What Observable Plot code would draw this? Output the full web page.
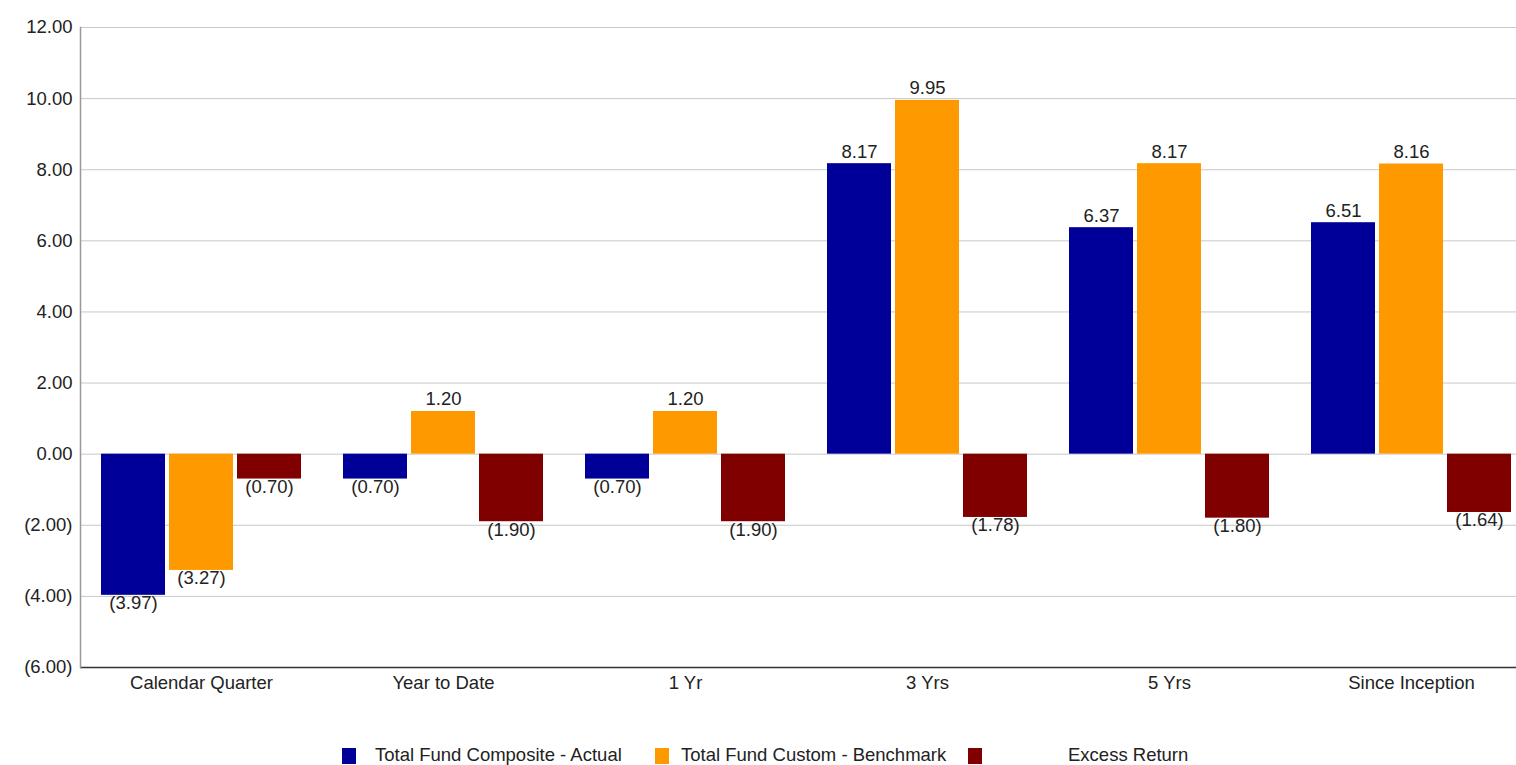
<!DOCTYPE html>
<html>
<head>
<meta charset="utf-8">
<script src="https://cdn.jsdelivr.net/npm/d3@7"></script>
<script src="https://cdn.jsdelivr.net/npm/@observablehq/plot@0.6"></script>
<style>
  html, body { margin: 0; padding: 0; background: #fff; overflow: hidden; }
  #wrap { position: relative; width: 1516px; height: 765px; overflow: hidden; font-family: "Liberation Sans", Arial, sans-serif; }
  #chart { position: absolute; left: 0; top: 0; width: 1532px; }
  #chart svg { max-width: none !important; }
  .lg-sq { position: absolute; width: 14px; height: 16px; }
  .lg-tx { position: absolute; font-size: 18.5px; color: #222; line-height: 20px; white-space: nowrap; }
</style>
</head>
<body>
<div id="wrap">
  <div id="chart"></div>
  <div id="legend"></div>
</div>
<script>
const categories = ["Calendar Quarter", "Year to Date", "1 Yr", "3 Yrs", "5 Yrs", "Since Inception"];
const seriesNames = ["Total Fund Composite - Actual", "Total Fund Custom - Benchmark", "Excess Return"];
const seriesColors = ["#000099", "#FF9900", "#800000"];
const compositeActual = [-3.97, -0.70, -0.70, 8.17, 6.37, 6.51];
const customBenchmark = [-3.27, 1.20, 1.20, 9.95, 8.17, 8.16];
const excessReturn = [-0.70, -1.90, -1.90, -1.78, -1.80, -1.64];
const yTicks = [-6, -4, -2, 0, 2, 4, 6, 8, 10, 12];

const seriesValues = [compositeActual, customBenchmark, excessReturn];
const rows = [];
categories.forEach((c, i) => {
  seriesNames.forEach((s, j) => {
    rows.push({category: c, series: s, value: seriesValues[j][i]});
  });
});

const fmt = d => d < 0 ? `(${Math.abs(d).toFixed(2)})` : d.toFixed(2);
const FS = 18.5;

const chart = Plot.plot({
  width: 1532,
  height: 710,
  marginLeft: 80,
  marginRight: 0,
  marginTop: 27,
  marginBottom: 43,
  style: {fontFamily: "'Liberation Sans', Arial, sans-serif", fontSize: FS + "px", color: "#222", background: "#fff", maxWidth: "none"},
  fx: {domain: categories, paddingInner: 0, paddingOuter: 0, label: null},
  x: {domain: seriesNames, paddingInner: 0.06, paddingOuter: 0.284, axis: null},
  y: {domain: [-6, 12], label: null},
  color: {domain: seriesNames, range: seriesColors},
  marks: [
    Plot.gridY(yTicks.filter(t => t > -6), {stroke: "#c8c8c8", strokeOpacity: 1}),
    Plot.barY(rows, {fx: "category", x: "series", y: "value", fill: "series"}),
    Plot.ruleY([-6], {stroke: "#333", strokeWidth: 1.5}),
    Plot.frame({anchor: "left", facetAnchor: "left", stroke: "#999", strokeWidth: 1.5}),
    Plot.text(rows.filter(d => d.value >= 0), {fx: "category", x: "series", y: "value", text: d => fmt(d.value), dy: -12, fill: "#222", fontSize: FS}),
    Plot.text(rows.filter(d => d.value < 0), {fx: "category", x: "series", y: "value", text: d => fmt(d.value), dy: 8, fill: "#222", fontSize: FS}),
    Plot.axisY(yTicks, {tickSize: 0, tickPadding: 8, tickFormat: fmt, fontSize: FS, fill: "#222", label: null}),
    Plot.axisFx({anchor: "bottom", tickSize: 0, tickPadding: 8, fontSize: FS, fill: "#222", label: null})
  ]
});
document.getElementById("chart").appendChild(chart);

const legend = document.getElementById("legend");
const sqX = [342, 655, 968];
const txX = [375, 681, 1068];
seriesNames.forEach((s, i) => {
  const sq = document.createElement("div");
  sq.className = "lg-sq";
  sq.style.left = sqX[i] + "px";
  sq.style.top = "748px";
  sq.style.background = seriesColors[i];
  legend.appendChild(sq);
  const tx = document.createElement("div");
  tx.className = "lg-tx";
  tx.style.left = txX[i] + "px";
  tx.style.top = "745px";
  tx.textContent = s;
  legend.appendChild(tx);
});
</script>
</body>
</html>
